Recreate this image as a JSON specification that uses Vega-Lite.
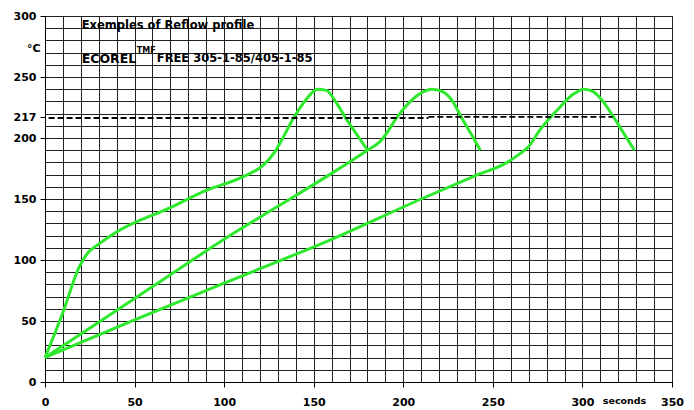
{
  "$schema": "https://vega.github.io/schema/vega-lite/v6.json",
  "width": 627,
  "height": 366,
  "autosize": {"type": "none"},
  "padding": {"left": 45, "top": 16, "right": 22, "bottom": 28},
  "background": "white",
  "config": {
    "font": "DejaVu Sans",
    "view": {"stroke": "#000", "strokeWidth": 1},
    "axis": {
      "labelFont": "DejaVu Sans",
      "labelFontSize": 11,
      "labelFontWeight": "bold",
      "labelColor": "#000",
      "labelOverlap": false,
      "labelFlush": false,
      "labelBound": false,
      "domainColor": "#000",
      "tickColor": "#000",
      "tickSize": 5,
      "gridColor": "#222",
      "gridWidth": 1,
      "gridOpacity": 1
    }
  },
  "resolve": {"axis": {"x": "independent", "y": "independent"}},
  "datasets": {
    "profiles": [
      {"profile": "A", "time": 0, "temp": 20},
      {"profile": "A", "time": 10, "temp": 57},
      {"profile": "A", "time": 19, "temp": 94},
      {"profile": "A", "time": 24, "temp": 106},
      {"profile": "A", "time": 29, "temp": 112},
      {"profile": "A", "time": 40, "temp": 123},
      {"profile": "A", "time": 70, "temp": 143},
      {"profile": "A", "time": 90, "temp": 157},
      {"profile": "A", "time": 110, "temp": 168},
      {"profile": "A", "time": 122, "temp": 178},
      {"profile": "A", "time": 128, "temp": 188},
      {"profile": "A", "time": 132, "temp": 198},
      {"profile": "A", "time": 139, "temp": 217},
      {"profile": "A", "time": 146, "temp": 232},
      {"profile": "A", "time": 152, "temp": 240},
      {"profile": "A", "time": 157, "temp": 239},
      {"profile": "A", "time": 163, "temp": 228},
      {"profile": "A", "time": 168, "temp": 216},
      {"profile": "A", "time": 174, "temp": 203},
      {"profile": "A", "time": 180, "temp": 190},
      {"profile": "B", "time": 0, "temp": 20},
      {"profile": "B", "time": 30, "temp": 49},
      {"profile": "B", "time": 70, "temp": 88},
      {"profile": "B", "time": 100, "temp": 117},
      {"profile": "B", "time": 130, "temp": 144},
      {"profile": "B", "time": 160, "temp": 171},
      {"profile": "B", "time": 180, "temp": 190},
      {"profile": "B", "time": 187, "temp": 197},
      {"profile": "B", "time": 198, "temp": 220},
      {"profile": "B", "time": 204, "temp": 230},
      {"profile": "B", "time": 209, "temp": 236},
      {"profile": "B", "time": 216, "temp": 240},
      {"profile": "B", "time": 222, "temp": 238},
      {"profile": "B", "time": 228, "temp": 229},
      {"profile": "B", "time": 232, "temp": 218},
      {"profile": "B", "time": 238, "temp": 203},
      {"profile": "B", "time": 243, "temp": 190},
      {"profile": "C", "time": 0, "temp": 20},
      {"profile": "C", "time": 50, "temp": 51},
      {"profile": "C", "time": 100, "temp": 81},
      {"profile": "C", "time": 160, "temp": 117},
      {"profile": "C", "time": 210, "temp": 150},
      {"profile": "C", "time": 240, "temp": 169},
      {"profile": "C", "time": 258, "temp": 180},
      {"profile": "C", "time": 265, "temp": 187},
      {"profile": "C", "time": 270, "temp": 193},
      {"profile": "C", "time": 276, "temp": 206},
      {"profile": "C", "time": 286, "temp": 223},
      {"profile": "C", "time": 295, "temp": 236},
      {"profile": "C", "time": 301, "temp": 240},
      {"profile": "C", "time": 306, "temp": 238},
      {"profile": "C", "time": 312, "temp": 229},
      {"profile": "C", "time": 317, "temp": 218},
      {"profile": "C", "time": 323, "temp": 204},
      {"profile": "C", "time": 329, "temp": 190}
    ],
    "liquidus": [
      {"seg": 1, "time": 2, "temp": 216.4},
      {"seg": 1, "time": 214, "temp": 216.4},
      {"seg": 2, "time": 214, "temp": 217.3},
      {"seg": 2, "time": 317, "temp": 217.3}
    ]
  },
  "layer": [
    {
      "data": {"name": "profiles"},
      "mark": {"type": "line", "color": "#2ee82e", "strokeWidth": 3, "interpolate": "monotone"},
      "encoding": {
        "x": {
          "field": "time",
          "type": "quantitative",
          "scale": {"domain": [0, 350], "nice": false},
          "axis": {
            "title": null,
            "values": [0, 10, 20, 30, 40, 50, 60, 70, 80, 90, 100, 110, 120, 130, 140, 150, 160, 170, 180, 190, 200, 210, 220, 230, 240, 250, 260, 270, 280, 290, 300, 310, 320, 330, 340, 350],
            "labelExpr": "datum.value % 50 == 0 ? datum.label : ''",
            "tickOpacity": {"condition": {"test": "datum.value % 50 == 0", "value": 1}, "value": 0},
            "labelPadding": 9
          }
        },
        "y": {
          "field": "temp",
          "type": "quantitative",
          "scale": {"domain": [0, 300], "nice": false},
          "axis": {
            "title": null,
            "values": [0, 10, 20, 30, 40, 50, 60, 70, 80, 90, 100, 110, 120, 130, 140, 150, 160, 170, 180, 190, 200, 210, 217, 220, 230, 240, 250, 260, 270, 280, 290, 300],
            "labelExpr": "datum.value % 50 == 0 || datum.value == 217 ? datum.label : ''",
            "tickOpacity": {"condition": {"test": "datum.value % 50 == 0 || datum.value == 217", "value": 1}, "value": 0},
            "gridOpacity": {"condition": {"test": "datum.value == 217", "value": 0}, "value": 1},
            "labelPadding": 4
          }
        },
        "detail": {"field": "profile"}
      }
    },
    {
      "data": {"name": "liquidus"},
      "mark": {"type": "line", "color": "#000", "strokeWidth": 1.8, "strokeDash": [6, 3]},
      "encoding": {
        "x": {"field": "time", "type": "quantitative", "axis": null},
        "y": {"field": "temp", "type": "quantitative", "axis": null},
        "detail": {"field": "seg"}
      }
    },
    {
      "data": {"values": [{"label": "Exemples of Reflow profile"}]},
      "mark": {"type": "text", "align": "left", "baseline": "middle", "fontSize": 11.5, "fontWeight": "bold", "color": "#000"},
      "encoding": {
        "x": {"datum": 20.5, "type": "quantitative", "axis": null},
        "y": {"datum": 291.5, "type": "quantitative", "axis": null},
        "text": {"field": "label"}
      }
    },
    {
      "data": {"values": [{"label": "ECOREL"}]},
      "mark": {"type": "text", "align": "left", "baseline": "middle", "fontSize": 12.5, "fontWeight": "bold", "color": "#000"},
      "encoding": {
        "x": {"datum": 20.5, "type": "quantitative", "axis": null},
        "y": {"datum": 265, "type": "quantitative", "axis": null},
        "text": {"field": "label"}
      }
    },
    {
      "data": {"values": [{"label": "TMF"}]},
      "mark": {"type": "text", "align": "left", "baseline": "middle", "fontSize": 8, "fontWeight": "bold", "color": "#000"},
      "encoding": {
        "x": {"datum": 51.2, "type": "quantitative", "axis": null},
        "y": {"datum": 271.5, "type": "quantitative", "axis": null},
        "text": {"field": "label"}
      }
    },
    {
      "data": {"values": [{"label": "FREE  305-1-85/405-1-85"}]},
      "mark": {"type": "text", "align": "left", "baseline": "middle", "fontSize": 11.5, "fontWeight": "bold", "color": "#000"},
      "encoding": {
        "x": {"datum": 62.4, "type": "quantitative", "axis": null},
        "y": {"datum": 265, "type": "quantitative", "axis": null},
        "text": {"field": "label"}
      }
    },
    {
      "data": {"values": [{"label": "°C"}]},
      "mark": {"type": "text", "align": "right", "baseline": "middle", "fontSize": 11, "fontWeight": "bold", "color": "#000", "clip": false},
      "encoding": {
        "x": {"datum": -2.4, "type": "quantitative", "axis": null},
        "y": {"datum": 273, "type": "quantitative", "axis": null},
        "text": {"field": "label"}
      }
    },
    {
      "data": {"values": [{"label": "seconds"}]},
      "mark": {"type": "text", "align": "center", "baseline": "middle", "fontSize": 9.5, "fontWeight": "bold", "color": "#000", "clip": false},
      "encoding": {
        "x": {"datum": 323.5, "type": "quantitative", "axis": null},
        "y": {"datum": -15.5, "type": "quantitative", "axis": null},
        "text": {"field": "label"}
      }
    }
  ]
}
